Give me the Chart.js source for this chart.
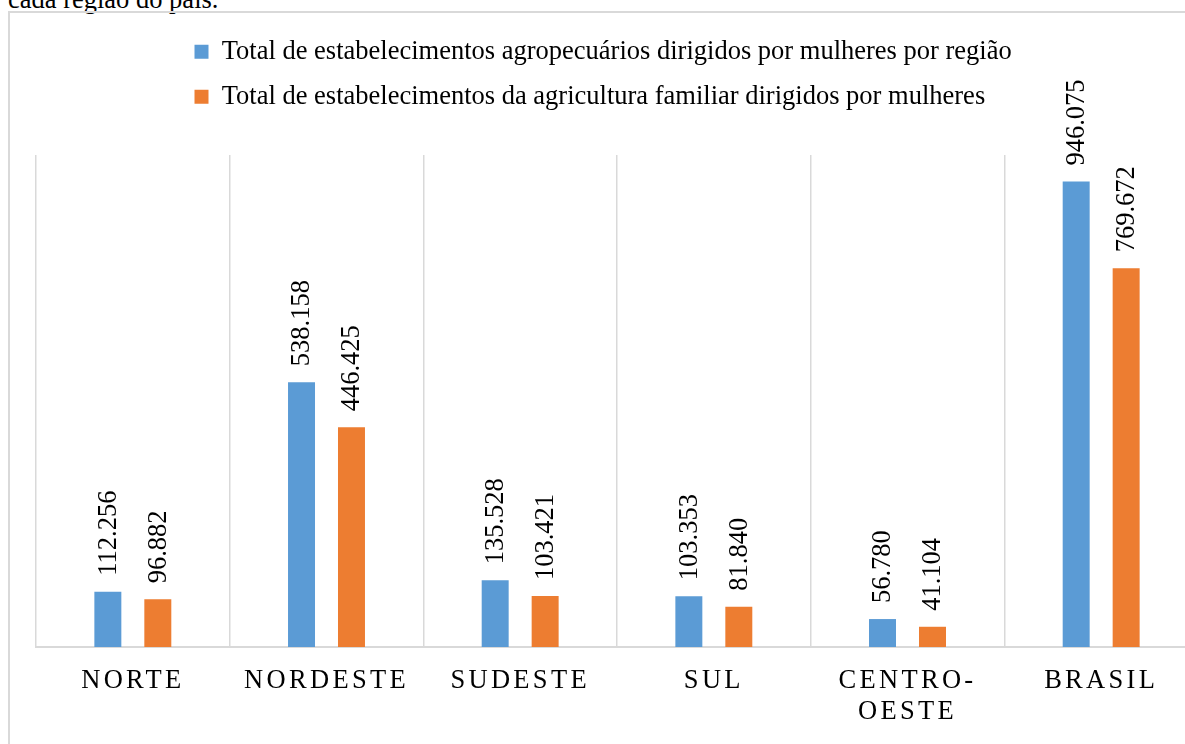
<!DOCTYPE html>
<html lang="pt-BR">
<head>
<meta charset="utf-8">
<script src="https://cdn.jsdelivr.net/npm/chart.js@4"></script>
<style>
    html, body { margin: 0; padding: 0; width: 1185px; height: 744px; overflow: hidden; background: #fff; }
    .caption {
        position: absolute; left: 8px; top: -16px;
        font: 26.5px/30px 'Liberation Serif', 'Times New Roman', serif; color: #000;
        white-space: nowrap;
    }
    .frame {
        position: absolute; left: 8px; top: 11px; width: 1240px; height: 780px;
        border: 2px solid #d9d9d9; box-sizing: border-box;
    }
    canvas { position: absolute; left: 10px; top: 13px; }
</style>
</head>
<body>
<div class="caption">cada região do país.</div>
<div class="frame"></div>
<canvas id="chart" width="1208" height="750"></canvas>
<script>
const regions = ['NORTE', 'NORDESTE', 'SUDESTE', 'SUL', ['CENTRO-', 'OESTE'], 'BRASIL']
const totalEstabelecimentos = [112256, 538158, 135528, 103353, 56780, 946075]
const agriculturaFamiliar = [96882, 446425, 103421, 81840, 41104, 769672]
const seriesNames = [
    'Total de estabelecimentos agropecuários dirigidos por mulheres por região',
    'Total de estabelecimentos da agricultura familiar dirigidos por mulheres',
]

const FONT = "'Liberation Serif', 'Times New Roman', serif"
const LABEL_SPACING = '3.3px'

// thousands with a dot, like 946.075
const fmt = v => String(v).replace(/\B(?=(\d{3})+(?!\d))/g, '.')

// category axis whose labels are drawn letter-spaced
class SpacedCategoryScale extends Chart.CategoryScale {
    static id = 'spacedCategory'
    drawLabels(area) {
        this.ctx.save()
        this.ctx.letterSpacing = LABEL_SPACING
        super.drawLabels(area)
        this.ctx.restore()
    }
}
Chart.register(SpacedCategoryScale)

const barValues = {
    id: 'barValues',
    afterDatasetsDraw(chart) {
        const ctx = chart.ctx
        chart.data.datasets.forEach((ds, i) => {
            chart.getDatasetMeta(i).data.forEach((bar, j) => {
                ctx.save()
                ctx.translate(bar.x + 1, bar.y - 16)
                ctx.rotate(-Math.PI / 2)
                ctx.font = `26.5px ${FONT}`
                ctx.fillStyle = '#000'
                ctx.textAlign = 'left'
                ctx.textBaseline = 'middle'
                ctx.fillText(fmt(ds.data[j]), 0, 0)
                ctx.restore()
            })
        })
    }
}

// legend lines start at the same x instead of being centred each
const legendPlace = {
    id: 'legendPlace',
    beforeDraw(chart) {
        chart.legend.left = 166
    }
}

new Chart(document.getElementById('chart'), {
    type: 'bar',
    data: {
        labels: regions,
        datasets: [
            { label: seriesNames[0], data: totalEstabelecimentos, backgroundColor: '#5b9bd5', borderWidth: 0 },
            { label: seriesNames[1], data: agriculturaFamiliar, backgroundColor: '#ed7d31', borderWidth: 0 },
        ],
    },
    options: {
        responsive: false,
        animation: false,
        layout: { padding: { top: 7, left: 26, right: 20, bottom: 16 } },
        datasets: { bar: { categoryPercentage: 0.516, barPercentage: 0.54 } },
        scales: {
            x: {
                type: 'spacedCategory',
                grid: { display: true, offset: true, color: '#d9d9d9', lineWidth: 1.5, drawTicks: false },
                border: { display: true, color: '#d9d9d9', width: 2 },
                ticks: {
                    color: '#000', padding: 19, maxRotation: 0, autoSkip: false,
                    font: { family: FONT, size: 26.5, lineHeight: 1.17 },
                },
            },
            y: { display: false, min: 0, max: 1000000 },
        },
        plugins: {
            legend: {
                position: 'top',
                align: 'start',
                labels: {
                    boxWidth: 14, boxHeight: 14, padding: 18.5, color: '#000',
                    font: { family: FONT, size: 26.5 },
                },
            },
            // empty spacer between legend and plot
            title: { display: true, text: '', weight: 500, padding: 0, font: { size: 35, lineHeight: 1 } },
            tooltip: { enabled: false },
        },
    },
    plugins: [barValues, legendPlace],
})
</script>
</body>
</html>
